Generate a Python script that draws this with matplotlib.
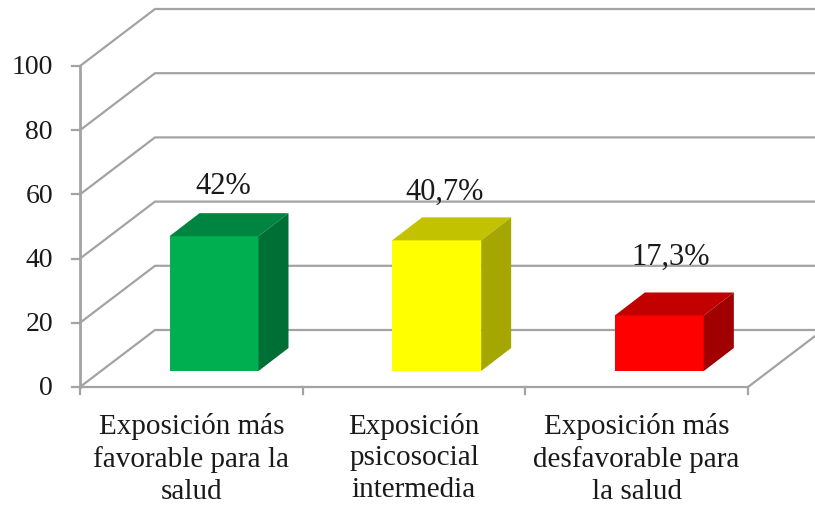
import matplotlib
matplotlib.use("Agg")
import matplotlib.pyplot as plt
from matplotlib.patches import Polygon

categories = ["Exposición más\nfavorable para la\nsalud",
              "Exposición\npsicosocial\nintermedia",
              "Exposición más\ndesfavorable para\nla salud"]
values = [42, 40.7, 17.3]
y_ticks = [0, 20, 40, 60, 80, 100]

front_colors = ["#00b050", "#ffff00", "#ff0000"]
top_colors = ["#008540", "#c2c200", "#c20000"]
side_colors = ["#006f35", "#a6a600", "#a00000"]

W, H = 815, 505
x0_px, y0_px = 80, 387       # origin of the front plane
cat_px = 222.67              # width of one category
unit_px = 3.21               # height of one value unit

# depth of the box and of the bars, in data units
dx = 75 / cat_px
dy = 57 / unit_px
bar_dx = 30 / cat_px
bar_dy = 23 / unit_px
bar_w = 89 / cat_px
bar_left = 89.5 / cat_px
bar_base = 16 / unit_px

grid_col = "#a3a3a3"
text_col = "#1a1a1a"
serif = ["Liberation Serif", "DejaVu Serif"]

fig = plt.figure(figsize=(W / 100, H / 100), dpi=100, facecolor="white")
ax = fig.add_axes([0, 0, 1, 1])
ax.set_xlim(-x0_px / cat_px, (W - x0_px) / cat_px)
ax.set_ylim(-(H - y0_px) / unit_px, y0_px / unit_px)
ax.axis("off")

n = len(categories)
tick_dx = 8 / cat_px
tick_dy = 7 / unit_px

# walls and floor
for t in y_ticks:
    ax.plot([0, dx, n + dx], [t, t + dy, t + dy], color=grid_col, lw=1.6,
            solid_joinstyle="miter", zorder=1)
    ax.plot([-tick_dx, 0], [t, t], color=grid_col, lw=1.6, zorder=1)
    ax.text(-27 / cat_px, t - 0.6, str(t), family=serif, fontsize=20,
            color=text_col, ha="right", va="center")
ax.plot([0, 0], [0, 100], color=grid_col, lw=2, zorder=2)
ax.plot([0, n, n + dx], [0, 0, dy], color=grid_col, lw=1.6,
        solid_joinstyle="miter", zorder=1)
for i in range(n + 1):
    ax.plot([i, i], [0, -tick_dy], color=grid_col, lw=1.6, zorder=1)

# label shift above the bar tops, value units
label_lift = [15.5, 15, 18]
label_shift = [9, 8, 11]

for i, v in enumerate(values):
    xl = i + bar_left
    xr = xl + bar_w
    yb = bar_base
    yt = bar_base + v
    ax.add_patch(Polygon([(xl, yb), (xr, yb), (xr, yt), (xl, yt)],
                         fc=front_colors[i], ec="none", zorder=3))
    ax.add_patch(Polygon([(xl, yt), (xr, yt), (xr + bar_dx, yt + bar_dy), (xl + bar_dx, yt + bar_dy)],
                         fc=top_colors[i], ec="none", zorder=3))
    ax.add_patch(Polygon([(xr, yb), (xr + bar_dx, yb + bar_dy), (xr + bar_dx, yt + bar_dy), (xr, yt)],
                         fc=side_colors[i], ec="none", zorder=3))
    label = ("%g" % v).replace(".", ",") + "%"
    ax.text(xl + bar_w / 2 + label_shift[i] / cat_px, yt + label_lift[i], label, family=serif,
            fontsize=22, color=text_col, ha="center", va="center", zorder=4)
    ax.text(i + 0.5, -8.0, categories[i], family=serif, fontsize=21,
            color=text_col, ha="center", va="top", linespacing=1.29)

fig.savefig("out.png", dpi=100)
